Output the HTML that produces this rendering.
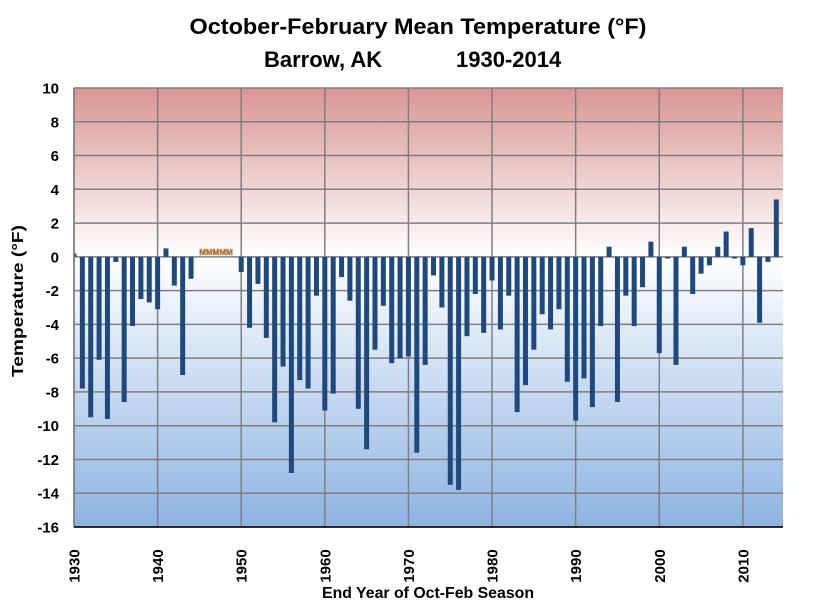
<!DOCTYPE html>
<html><head><meta charset="utf-8"><style>
body{margin:0;background:#fff}
svg{display:block;font-family:"Liberation Sans",Arial,sans-serif}
</style></head><body>
<svg id="chart" width="821" height="607" viewBox="0 0 821 607">
<defs>
<linearGradient id="bg" x1="0" y1="0" x2="0" y2="1">
<stop offset="0" stop-color="#d99694"/>
<stop offset="0.385" stop-color="#ffffff"/>
<stop offset="1" stop-color="#8db3e2"/>
</linearGradient>
</defs>
<text x="418" y="34" text-anchor="middle" font-size="22" font-weight="bold" textLength="457" lengthAdjust="spacingAndGlyphs">October-February Mean Temperature (°F)</text>
<text x="264" y="67" font-size="22" font-weight="bold">Barrow, AK</text>
<text x="456" y="67" font-size="22" font-weight="bold">1930-2014</text>
<rect x="74" y="88" width="709" height="439" fill="url(#bg)"/>
<g id="grid"></g>
<g id="bars"></g>
<text x="216" y="255" text-anchor="middle" font-size="8" font-weight="bold" fill="#f79646" stroke="#5a3000" stroke-width="0.3">MMMMM</text>
<g id="axes"></g>
<text transform="translate(23,301) rotate(-90)" text-anchor="middle" font-size="16" font-weight="bold" textLength="152" lengthAdjust="spacingAndGlyphs">Temperature (°F)</text>
<text x="428" y="598" text-anchor="middle" font-size="16" font-weight="bold" textLength="212" lengthAdjust="spacingAndGlyphs">End Year of Oct-Feb Season</text>
</svg>
<script>
const years = [];
for (let y = 1930; y <= 2014; y++) years.push(y);
const temps = [0.2,-7.8,-9.5,-6.1,-9.6,-0.3,-8.6,-4.1,-2.5,-2.7,
-3.1,0.5,-1.7,-7.0,-1.3,null,null,null,null,null,
-0.9,-4.2,-1.6,-4.8,-9.8,-6.5,-12.8,-7.3,-7.8,-2.3,
-9.1,-8.1,-1.2,-2.6,-9.0,-11.4,-5.5,-2.9,-6.3,-6.0,
-5.9,-11.6,-6.4,-1.1,-3.0,-13.5,-13.8,-4.7,-2.2,-4.5,
-1.4,-4.3,-2.3,-9.2,-7.6,-5.5,-3.4,-4.3,-3.1,-7.4,
-9.7,-7.2,-8.9,-4.1,0.6,-8.6,-2.3,-4.1,-1.8,0.9,
-5.7,-0.1,-6.4,0.6,-2.2,-1.0,-0.5,0.6,1.5,-0.1,
-0.5,1.7,-3.9,-0.3,3.4];
const yTicks = [10,8,6,4,2,0,-2,-4,-6,-8,-10,-12,-14,-16];
const xTicks = [1930,1940,1950,1960,1970,1980,1990,2000,2010];
const NS = "http://www.w3.org/2000/svg";
const X0 = 74, X1 = 783, Y0 = 88, Y1 = 527;
function xs(yr){ return X0 + (yr - 1930) * (X1 - X0) / 84.8; }
function ys(v){ return Y0 + (10 - v) * (Y1 - Y0) / 26; }
function mk(tag, attrs, parent){
  const e = document.createElementNS(NS, tag);
  for (const k in attrs) e.setAttribute(k, attrs[k]);
  parent.appendChild(e); return e;
}
const grid = document.getElementById('grid');
const bars = document.getElementById('bars');
const axes = document.getElementById('axes');
yTicks.forEach(v => {
  const l = mk('line', {x1:X0, x2:X1, y1:ys(v), y2:ys(v), stroke:'#7f7f7f', 'stroke-width':1.5}, grid);
  
  
  const t = mk('text', {x:59, y:ys(v)+5.5, 'text-anchor':'end', 'font-size':15, 'font-weight':'bold'}, axes);
  t.textContent = v;
  
  
});
xTicks.forEach(yr => {
  const x = xs(yr);
  const l = mk('line', {x1:x, x2:x, y1:Y0, y2:Y1, stroke:'#7f7f7f', 'stroke-width':1.5}, grid);
  
  
  const tk = mk('line', {x1:x, x2:x, y1:ys(0), y2:ys(0)+6, stroke:'#7f7f7f', 'stroke-width':1.5}, grid);
  
  
  const t = mk('text', {transform:'translate('+(x+5.5)+',566) rotate(-90)', 'font-size':15, 'font-weight':'bold', 'text-anchor':'middle'}, axes);
  t.textContent = yr;
  
  
});
years.forEach((yr, i) => {
  const v = temps[i];
  if (v === null) return;
  const cx = xs(yr);
  const top = Math.min(ys(v), ys(0)), h = Math.abs(ys(v) - ys(0));
  const x = Math.max(cx - 2.5, X0);
  const w = cx + 2.5 - x;
  const r = mk('rect', {x:x, y:top, width:w, height:h, fill:'#1f497d'}, bars);
  
  
});
const la = mk('line', {x1:X0, x2:X0, y1:Y0, y2:Y1, stroke:'#7f7f7f', 'stroke-width':1.5}, axes);


const ba = mk('line', {x1:X0, x2:X1, y1:Y1, y2:Y1, stroke:'#000', 'stroke-width':1.5}, axes);


</script>
</body></html>
